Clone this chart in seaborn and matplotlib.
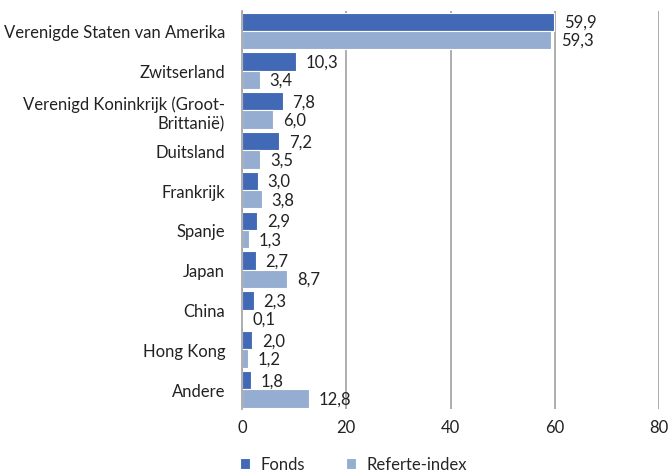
import pandas as pd
import matplotlib.pyplot as plt
import seaborn as sns

# === DONNÉES ===
landen = ["Verenigde Staten van Amerika", "Zwitserland",
          "Verenigd Koninkrijk (Groot-\nBrittanië)", "Duitsland", "Frankrijk",
          "Spanje", "Japan", "China", "Hong Kong", "Andere"]
fonds = [59.9, 10.3, 7.8, 7.2, 3.0, 2.9, 2.7, 2.3, 2.0, 1.8]
referte = [59.3, 3.4, 6.0, 3.5, 3.8, 1.3, 8.7, 0.1, 1.2, 12.8]
reeksen = ["Fonds", "Referte-index"]
kleuren = ["#4169b6", "#95add0"]

df = pd.DataFrame({
    "land": landen * 2,
    "waarde": fonds + referte,
    "reeks": [reeksen[0]] * len(landen) + [reeksen[1]] * len(landen),
})

sns.set_style("white")
plt.rcParams["font.family"] = ["Lato", "DejaVu Sans"]
fs = 12

fig = plt.figure(figsize=(6.7, 4.77), dpi=100)
ax = fig.add_axes([0.361, 0.14, 0.623, 0.835])

sns.barplot(data=df, y="land", x="waarde", hue="reeks", orient="h",
            palette=kleuren, saturation=1, width=0.92, edgecolor="white",
            linewidth=0.8, ax=ax, legend=True)

for cont, vals in zip(ax.containers, [fonds, referte]):
    ax.bar_label(cont, labels=[f"{v:.1f}".replace(".", ",") for v in vals],
                 padding=7, fontsize=fs, color="#222222")

ax.set_xlim(0, 80)
ax.set_xticks([0, 20, 40, 60, 80])
ax.set_ylim(9.5, -0.5)
ax.xaxis.grid(True, color="#a0a0a0", linewidth=1.2)
ax.set_axisbelow(True)
for s in ["top", "right", "bottom"]:
    ax.spines[s].set_visible(False)
ax.spines["left"].set_color("#a0a0a0")
ax.spines["left"].set_linewidth(1.2)
ax.tick_params(axis="both", length=0, labelsize=fs, colors="#222222")
ax.tick_params(axis="x", pad=7)
ax.tick_params(axis="y", pad=12)
for lbl in ax.get_yticklabels():
    lbl.set_horizontalalignment("right")
    lbl.set_multialignment("right")
ax.set_xlabel("")
ax.set_ylabel("")

ax.legend(loc="upper left", bbox_to_anchor=(-0.04, -0.08), ncol=2, frameon=False,
          fontsize=fs, handlelength=0.6, handleheight=0.6, columnspacing=2.5,
          handletextpad=0.6)

fig.savefig("out.png", dpi=100)
